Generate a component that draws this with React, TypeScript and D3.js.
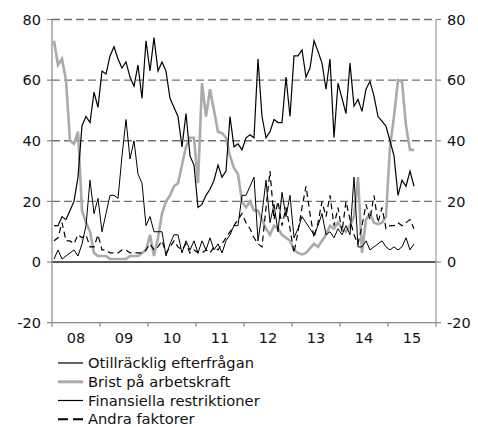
import React from 'react';
import * as d3 from 'd3';

const yearLabels = ['08', '09', '10', '11', '12', '13', '14', '15'];
const yTicks = [-20, 0, 20, 40, 60, 80];
const gridValues = [20, 40, 60, 80];
const startYear = 2008;

const otillracklig = [12, 12, 15, 14, 17, 20, 28, 45, 48, 46, 56, 51, 63, 62, 68, 71, 67, 64, 66, 61, 58, 65, 54, 73, 63, 74, 63, 66, 63, 54, 51, 48, 38, 49, 35, 32, 18, 19, 22, 24, 27, 32, 28, 30, 48, 38, 39, 37, 41, 42, 41, 67, 48, 41, 43, 47, 46, 46, 61, 48, 68, 68, 70, 61, 64, 73, 69.5, 65.6, 57, 67, 41, 59, 54, 49, 65.6, 51.4, 53.6, 49.7, 57, 59.6, 54.7, 48, 46.5, 44.8, 40, 35, 22, 27, 25, 30, 25];
const brist = [73, 65, 67, 60, 40, 39, 43, 17, 13, 10, 3, 2, 2, 2, 1, 1, 1, 1, 1, 2, 2, 2, 3, 4, 9, 2, 8, 16, 20, 22, 25, 26, 32, 38, 41, 41, 26, 59, 48, 57, 50, 43, 42.5, 41, 35, 31, 29, 20, 18, 20, 17, 17, 14, 11, 9, 12, 11, 9, 8, 7, 4, 3, 2.5, 3, 4.5, 6, 5, 7, 9, 12, 11, 13, 11, 10, 12, 15, 28, 3, 14, 16, 13, 12.5, 13, 15, 38, 48, 60, 59.5, 45, 37, 37];
const finansiella = [1, 4, 1, 2, 3, 4, 2, 6, 12, 27, 16, 21, 10, 16, 22, 22, 21, 35, 47, 34, 40, 29, 26, 12, 15, 10, 10, 10, 2, 6, 9, 9, 3, 7, 4, 7, 3, 7, 4, 8, 4, 6, 3, 7, 9, 12, 12, 22, 22, 25, 28, 7, 16, 27, 13, 19, 10, 23, 15, 22, 8, 11, 15, 13, 11, 9, 12, 16, 9, 10, 8, 11, 9, 12, 9, 28, 5, 5, 7, 4, 5, 6, 7, 5, 4, 5, 4, 5, 8, 4, 6];
const andra = [7, 8, 13, 7, 7, 6, 9, 8, 9, 5, 5, 9, 4, 4, 3, 3, 3, 4, 4, 3, 3, 3, 3, 4, 6, 4, 5, 7, 3, 5, 7, 5, 4, 6, 3, 4, 3, 3, 4, 3, 5, 4, 6, 8, 10, 12, 14, 16, 13, 11, 8, 6, 5, 18, 30, 14, 20, 12, 18, 11, 3, 10, 18, 25, 16, 8, 13, 20, 15, 22, 12, 18, 10, 20, 14, 9, 6, 12, 19, 14, 22, 13, 18, 11, 12, 12, 13, 12, 13, 14, 11];

const seriesNames = ['Otillräcklig efterfrågan', 'Brist på arbetskraft', 'Finansiella restriktioner', 'Andra faktorer'];

const W = 478;
const H = 427;
const left = 52;
const right = 436;
const top = 19.5;
const bottom = 322.7;

export default function App() {
  const x = d3.scaleLinear().domain([startYear, startYear + 8]).range([left, right]);
  const y = d3.scaleLinear().domain([-20, 80]).range([bottom, top]);
  const xm = (i: number) => x(startYear + (i + 0.5) / 12);
  const line = d3
    .line<number>()
    .x((_, i) => xm(i))
    .y((d) => y(d));

  const styles = [
    { data: otillracklig, stroke: '#000', width: 1.2, dash: undefined as string | undefined },
    { data: brist, stroke: '#aaaaaa', width: 2.6, dash: undefined },
    { data: finansiella, stroke: '#000', width: 1.0, dash: undefined },
    { data: andra, stroke: '#000', width: 1.2, dash: '6,4' },
  ];
  const drawOrder = [1, 0, 2, 3];
  const font = "'DejaVu Sans', Verdana, sans-serif";
  const yearTicks = d3.range(0, 9).map((k) => startYear + k);
  const legendY = [363, 381.8, 400.5, 419.2];

  return (
    <svg width={W} height={H} style={{ position: 'absolute', left: 0, top: 0, background: '#fff' }} fontFamily={font}>
      {gridValues.map((v) => (
        <line key={'g' + v} x1={left} x2={right} y1={y(v)} y2={y(v)} stroke="#707070" strokeWidth={1.4} strokeDasharray="8,4" />
      ))}
      <line x1={left} x2={right} y1={y(0)} y2={y(0)} stroke="#222" strokeWidth={1.4} />
      <line x1={left} x2={right} y1={bottom} y2={bottom} stroke="#888" strokeWidth={1.2} />
      <line x1={left} x2={left} y1={top} y2={bottom} stroke="#888" strokeWidth={1.2} />
      <line x1={right} x2={right} y1={top} y2={bottom} stroke="#aaa" strokeWidth={1.4} />
      {yTicks.map((v) => (
        <g key={'t' + v}>
          <line x1={left - 5} x2={left} y1={y(v)} y2={y(v)} stroke="#888" strokeWidth={1.2} />
          <line x1={right} x2={right + 5} y1={y(v)} y2={y(v)} stroke="#888" strokeWidth={1.2} />
          <text x={left - 11} y={y(v)} dy="0.36em" textAnchor="end" fontSize={14.5} fill="#111">{v}</text>
          <text x={right + 11} y={y(v)} dy="0.36em" textAnchor="start" fontSize={14.5} fill="#111">{v}</text>
        </g>
      ))}
      {yearTicks.map((yr) => (
        <line key={'xt' + yr} x1={x(yr)} x2={x(yr)} y1={bottom} y2={bottom + 4} stroke="#888" strokeWidth={1.2} />
      ))}
      {yearLabels.map((lab, k) => (
        <text key={'xl' + lab} x={x(startYear + k + 0.5)} y={343} textAnchor="middle" fontSize={14.5} fill="#111">{lab}</text>
      ))}
      {drawOrder.map((k) => {
        const s = styles[k];
        return (
          <path key={'s' + k} d={line(s.data) || ''} fill="none" stroke={s.stroke} strokeWidth={s.width} strokeDasharray={s.dash} strokeLinejoin="miter" />
        );
      })}
      {seriesNames.map((name, k) => {
        const s = styles[k];
        return (
          <g key={'lg' + k}>
            <line x1={58} x2={83} y1={legendY[k]} y2={legendY[k]} stroke={k === 1 ? '#aaaaaa' : '#000'} strokeWidth={k === 1 ? 3 : k === 3 ? 2 : 1.2} strokeDasharray={k === 3 ? '10,5' : undefined} />
            <text x={88} y={legendY[k]} dy="0.36em" fontSize={14.7} fill="#111">{name}</text>
          </g>
        );
      })}
    </svg>
  );
}
